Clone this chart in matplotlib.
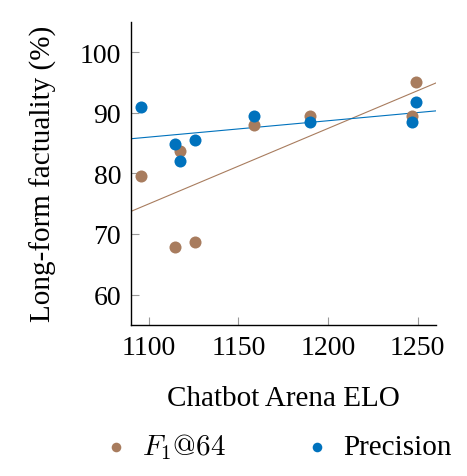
import numpy as np
import matplotlib
matplotlib.use('Agg')
import matplotlib.pyplot as plt

plt.rcParams['font.family'] = ['Liberation Serif', 'DejaVu Serif']
plt.rcParams['mathtext.fontset'] = 'cm'

# Chatbot Arena ELO of each model
elo = [1095.5, 1114.9, 1117.7, 1125.8, 1158.7, 1189.7, 1246.8, 1248.8]
# long-form factuality (%)
f1_64 = [79.6, 67.9, 83.7, 68.7, 88.0, 89.4, 89.4, 95.0]
precision = [90.9, 84.8, 82.0, 85.5, 89.4, 88.5, 88.5, 91.7]

brown = '#a87c5e'
blue = '#0072bd'

fig = plt.figure(figsize=(4.67, 4.77), dpi=100)
ax = fig.add_axes([0.28, 0.317, 0.653, 0.635])

xlim = (1090, 1260)
xs = np.array(xlim)

# 散点
ax.scatter(elo, f1_64, s=75, color=brown, linewidths=0, label='$F_1@64$', zorder=3)
ax.scatter(elo, precision, s=75, color=blue, linewidths=0, label='Precision', zorder=3)

# 线性拟合
for ys, c in [(f1_64, brown), (precision, blue)]:
    k, b = np.polyfit(elo, ys, 1)
    ax.plot(xs, k * xs + b, color=c, lw=0.8, zorder=2)

ax.set_xlim(*xlim)
ax.set_ylim(55, 105)
ax.set_xticks([1100, 1150, 1200, 1250])
ax.set_yticks([60, 70, 80, 90, 100])
ax.tick_params(direction='in', length=6, width=0.8, color='#999999', labelsize=20, pad=7)
ax.spines['top'].set_visible(False)
ax.spines['right'].set_visible(False)
ax.spines['left'].set_linewidth(1.0)
ax.spines['bottom'].set_linewidth(1.0)

ax.set_xlabel('Chatbot Arena ELO', fontsize=21, labelpad=18)
ax.set_ylabel('Long-form factuality (%)', fontsize=21, labelpad=16)

fig.legend(loc='center', bbox_to_anchor=(0.592, 0.062), ncol=2, frameon=False,
           fontsize=21, markerscale=0.8, handlelength=1.0, handletextpad=0.4,
           columnspacing=2.6)

fig.savefig('out.png', dpi=100)
